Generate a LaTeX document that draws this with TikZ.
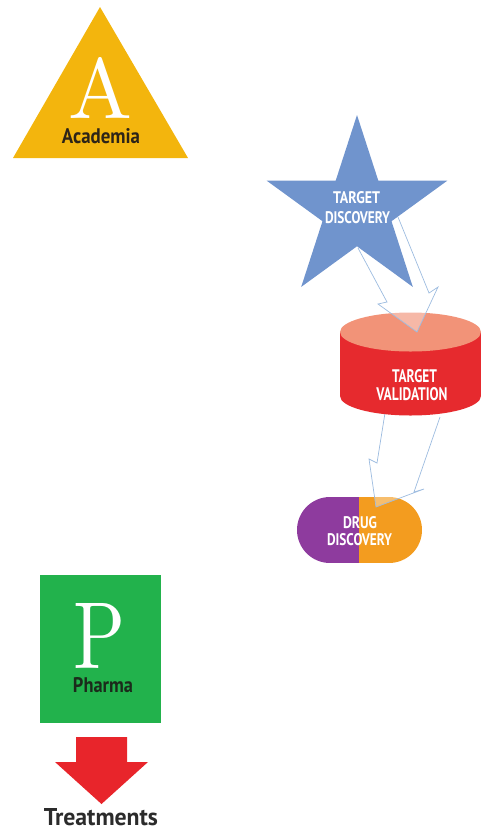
\documentclass[tikz,border=0pt]{standalone}
\usepackage{fontspec}
\usepackage{graphicx}
\newfontfamily\cf{PT Sans}
\definecolor{gold}{HTML}{F3B50D}
\definecolor{acad}{HTML}{2D2418}
\definecolor{pgreen}{HTML}{22B24C}
\definecolor{phtxt}{HTML}{1B2B1B}
\definecolor{rarr}{HTML}{E8252B}
\definecolor{trtxt}{HTML}{2B2B2B}
\definecolor{starblue}{HTML}{7094CD}
\definecolor{cyltop}{HTML}{F29378}
\definecolor{cylbody}{HTML}{E62A2E}
\definecolor{pillpurple}{HTML}{8E3B9E}
\definecolor{pillorange}{HTML}{F39C1F}
\definecolor{arrline}{HTML}{9DBCE0}
\newcommand\fitt[3]{\resizebox{#1pt}{#2pt}{\cf\bfseries #3}}
\tikzset{
  lbl/.style={anchor=base, inner sep=0pt, outer sep=0pt},
  blockarrow/.style={draw=arrline, line width=0.7pt, fill=white, fill opacity=0.35, line join=miter},
}
\begin{document}
\begin{tikzpicture}[x=1pt,y=-1pt]
\useasboundingbox (0,0) rectangle (481,831);

% Academia triangle
\fill[gold] (100,7) -- (188,158) -- (13,158) -- cycle;
\node[lbl, text=white] (letA) at (100,118) {\resizebox{64pt}{61pt}{A}};
\node[lbl, text=acad] (acad) at (101,143) {\fitt{78}{15}{Academia}};

% Pharma square
\fill[pgreen] (40,575) rectangle (161,723);
\node[lbl, text=white] (letP) at (100,668) {\resizebox{52pt}{65pt}{P}};
\node[lbl, text=phtxt] (pharma) at (103,692) {\fitt{60}{15}{Pharma}};

% red arrow to Treatments
\coordinate (ra1) at (76,737);
\coordinate (ra2) at (127,737);
\coordinate (ra3) at (127,762);
\coordinate (ra4) at (148,762);
\coordinate (ratip) at (101.5,804);
\coordinate (ra5) at (55,762);
\coordinate (ra6) at (76,762);
\fill[rarr] (ra1) -- (ra2) -- (ra3) -- (ra4) -- (ratip) -- (ra5) -- (ra6) -- cycle;
\node[lbl, text=trtxt] (treat) at (101,825) {\fitt{114}{17}{Treatments}};

% Drug discovery pill
\begin{scope}
  \path[clip, rounded corners=33pt] (297,497) rectangle (422,563);
  \fill[pillpurple] (297,497) rectangle (359,563);
  \fill[pillorange] (359,497) rectangle (422,563);
\end{scope}
\node[lbl, text=white] (ddA) at (360,528) {\fitt{34}{12}{DRUG}};
\node[lbl, text=white] (ddB) at (359.5,545) {\fitt{65}{12}{DISCOVERY}};

% arrow target validation -> drug discovery
\coordinate (b2t1) at (385,413);
\coordinate (b2n1) at (377,463);
\coordinate (b2b1) at (369,459);
\coordinate (b2tip) at (376,507);
\coordinate (b2b2) at (424,489);
\coordinate (b2n2) at (414,492);
\coordinate (b2t2) at (440,417);
\path[blockarrow] (b2t1) -- (b2n1) -- (b2b1) -- (b2tip) -- (b2b2) -- (b2n2) -- (b2t2);

% Target validation cylinder
\fill[cylbody] (340,332) -- (340,396) arc[start angle=180, end angle=360, x radius=70.5pt, y radius=19.5pt] -- (481,332) -- cycle;
\fill[cyltop] (410.5,332) ellipse [x radius=70.5pt, y radius=19.5pt];
\node[lbl, text=white] (tvA) at (414.5,382) {\fitt{45}{13}{TARGET}};
\node[lbl, text=white] (tvB) at (412,400) {\fitt{71}{13}{VALIDATION}};

% arrow target discovery -> target validation
\coordinate (b1t1) at (358,248);
\coordinate (b1n1) at (387,302);
\coordinate (b1b1) at (378,304);
\coordinate (b1tip) at (417,332);
\coordinate (b1b2) at (438,287);
\coordinate (b1n2) at (429,293);
\coordinate (b1t2) at (398,217);
\path[blockarrow] (b1t1) -- (b1n1) -- (b1b1) -- (b1tip) -- (b1b2) -- (b1n2) -- (b1t2);

% Target discovery star
\fill[starblue] (357,115) -- (378.3,180.6) -- (447.4,180.6) -- (391.5,221.2) -- (412.8,286.9)
  -- (357,246.3) -- (301.2,286.9) -- (322.5,221.2) -- (266.6,180.6) -- (335.7,180.6) -- cycle;
\node[lbl, text=white] (tdA) at (356.5,203) {\fitt{47}{12}{TARGET}};
\node[lbl, text=white] (tdB) at (357.5,223) {\fitt{65}{12}{DISCOVERY}};
\end{tikzpicture}
\end{document}
